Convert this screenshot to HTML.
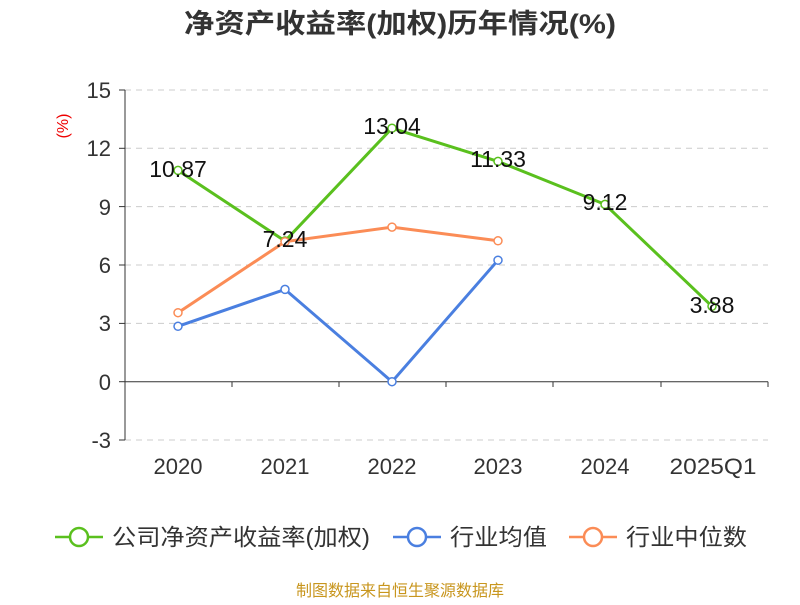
<!DOCTYPE html>
<html><head><meta charset="utf-8"><style>
body{margin:0;background:#fff;}
svg text{font-family:"Liberation Sans","Noto Sans CJK SC",sans-serif;}
</style></head><body>
<svg width="800" height="600" xmlns="http://www.w3.org/2000/svg">
<rect width="800" height="600" fill="#fff"/>
<text x="400" y="33" text-anchor="middle" font-size="27" font-weight="bold" fill="#333" textLength="432" lengthAdjust="spacingAndGlyphs">净资产收益率(加权)历年情况(%)</text>
<g stroke="#ccc" stroke-dasharray="6,5" stroke-width="1">
<line x1="125" x2="768" y1="90" y2="90"/><line x1="125" x2="768" y1="148.3" y2="148.3"/>
<line x1="125" x2="768" y1="206.6" y2="206.6"/><line x1="125" x2="768" y1="265" y2="265"/>
<line x1="125" x2="768" y1="323.4" y2="323.4"/><line x1="125" x2="768" y1="440" y2="440"/>
</g>
<g stroke="#333" stroke-width="1">
<line x1="125" x2="125" y1="90" y2="440"/>
<line x1="125" x2="768" y1="381.7" y2="381.7"/>
<line x1="119" x2="125" y1="90" y2="90"/><line x1="119" x2="125" y1="148.3" y2="148.3"/>
<line x1="119" x2="125" y1="206.6" y2="206.6"/><line x1="119" x2="125" y1="265" y2="265"/>
<line x1="119" x2="125" y1="323.4" y2="323.4"/><line x1="119" x2="125" y1="381.7" y2="381.7"/>
<line x1="119" x2="125" y1="440" y2="440"/>
<line x1="232" x2="232" y1="381.7" y2="387"/><line x1="339" x2="339" y1="381.7" y2="387"/>
<line x1="446" x2="446" y1="381.7" y2="387"/><line x1="553" x2="553" y1="381.7" y2="387"/>
<line x1="661" x2="661" y1="381.7" y2="387"/><line x1="768" x2="768" y1="381.7" y2="387"/>
</g>
<g font-size="22" fill="#333" text-anchor="end">
<text x="111" y="98">15</text><text x="111" y="156">12</text><text x="111" y="215">9</text>
<text x="111" y="273">6</text><text x="111" y="331">3</text><text x="111" y="390">0</text><text x="111" y="448">-3</text>
</g>
<text x="68" y="126" font-size="16" fill="#e00" text-anchor="middle" transform="rotate(-90 68 126)">(%)</text>
<g font-size="22" fill="#333" text-anchor="middle">
<text x="178" y="474">2020</text><text x="285" y="474">2021</text><text x="392" y="474">2022</text>
<text x="498" y="474">2023</text><text x="605" y="474">2024</text><text x="713" y="474" textLength="87" lengthAdjust="spacingAndGlyphs">2025Q1</text>
</g>
<polyline fill="none" stroke="#5ac01e" stroke-width="3" points="178,170.4 285,241 392,128.2 498,161.4 605,204.4 712,306.3"/>
<polyline fill="none" stroke="#4a7fe0" stroke-width="3" points="178,326.3 285,289.4 392,381.7 498,260.2"/>
<polyline fill="none" stroke="#fb8c56" stroke-width="3" points="178,312.7 285,241.7 392,227.1 498,240.8"/>
<g fill="#fff" stroke-width="1.5">
<g stroke="#5ac01e"><circle cx="178" cy="170.4" r="4"/><circle cx="285" cy="241" r="4"/><circle cx="392" cy="128.2" r="4"/><circle cx="498" cy="161.4" r="4"/><circle cx="605" cy="204.4" r="4"/><circle cx="712" cy="306.3" r="4"/></g>
<g stroke="#4a7fe0"><circle cx="178" cy="326.3" r="4"/><circle cx="285" cy="289.4" r="4"/><circle cx="392" cy="381.7" r="4"/><circle cx="498" cy="260.2" r="4"/></g>
<g stroke="#fb8c56"><circle cx="178" cy="312.7" r="4"/><circle cx="285" cy="241.7" r="4"/><circle cx="392" cy="227.1" r="4"/><circle cx="498" cy="240.8" r="4"/></g>
</g>
<g font-size="23" fill="#111" text-anchor="middle">
<text x="178" y="177">10.87</text><text x="285" y="247">7.24</text><text x="392" y="134">13.04</text>
<text x="498" y="167">11.33</text><text x="605" y="210">9.12</text><text x="712" y="313">3.88</text>
</g>
<g stroke-width="2.5" fill="#fff">
<line x1="55" x2="103" y1="537" y2="537" stroke="#5ac01e"/><circle cx="79" cy="537" r="9" stroke="#5ac01e"/>
<line x1="393" x2="441" y1="537" y2="537" stroke="#4a7fe0"/><circle cx="417" cy="537" r="9" stroke="#4a7fe0"/>
<line x1="569" x2="617" y1="537" y2="537" stroke="#fb8c56"/><circle cx="593" cy="537" r="9" stroke="#fb8c56"/>
</g>
<g font-size="23" fill="#333">
<text x="112" y="545" textLength="258" lengthAdjust="spacingAndGlyphs">公司净资产收益率(加权)</text><text x="450" y="545" textLength="97" lengthAdjust="spacingAndGlyphs">行业均值</text><text x="626" y="545" textLength="121" lengthAdjust="spacingAndGlyphs">行业中位数</text>
</g>
<text x="400" y="596" font-size="16" fill="#c8961e" text-anchor="middle">制图数据来自恒生聚源数据库</text>
</svg>
</body></html>
